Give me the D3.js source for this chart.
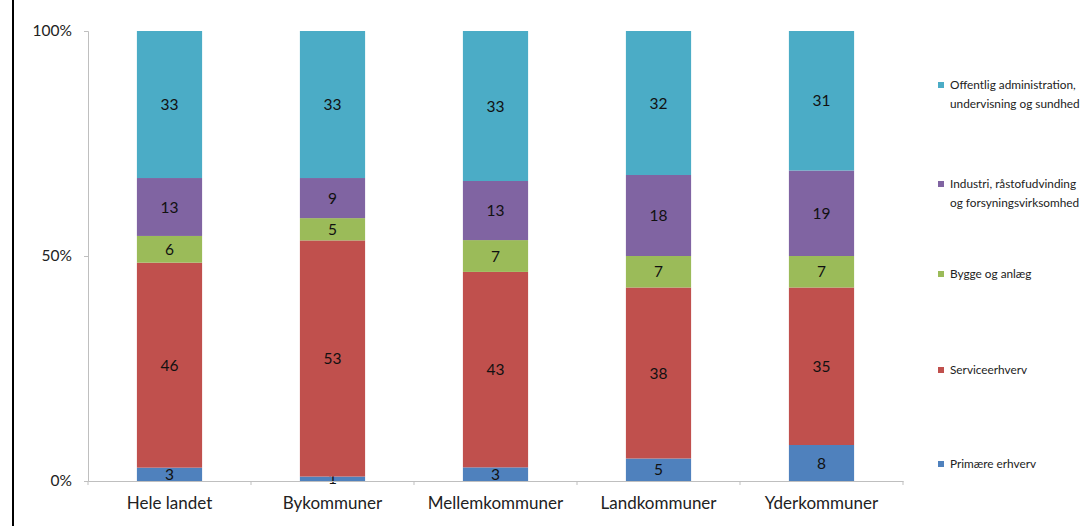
<!DOCTYPE html>
<html><head><meta charset="utf-8">
<script src="https://cdn.jsdelivr.net/npm/d3@7"></script>
<style>
html,body{margin:0;padding:0;background:#fff;}
svg{display:block;font-family:Lato, "Open Sans", sans-serif;}
</style></head>
<body>
<svg id="chart" width="1085" height="526"></svg>
<script>
const categories = ["Hele landet","Bykommuner","Mellemkommuner","Landkommuner","Yderkommuner"];
const seriesNames = ["Primære erhverv","Serviceerhverv","Bygge og anlæg","Industri, råstofudvinding og forsyningsvirksomhed","Offentlig administration, undervisning og sundhed"];
const legendLines = [["Primære erhverv"],["Serviceerhverv"],["Bygge og anlæg"],["Industri, råstofudvinding","og forsyningsvirksomhed"],["Offentlig administration,","undervisning og sundhed"]];
const primaere = [3,1,3,5,8];
const service = [46,53,43,38,35];
const bygge = [6,5,7,7,7];
const industri = [13,9,13,18,19];
const offentlig = [33,33,33,32,31];
const yTicks = [0,0.5,1];
const yTickLabels = ["0%","50%","100%"];
const colors = ["#4F81BD","#C0504D","#9BBB59","#8064A2","#4BACC6"];

const seriesValues = [primaere, service, bygge, industri, offentlig];
const svg = d3.select("#chart");

// frame line on the left
svg.append("rect").attr("x",12).attr("y",0).attr("width",2).attr("height",526).attr("fill","#000");

const x = d3.scaleBand().domain(categories).range([88,903]).padding(0);
const y = d3.scaleLinear().domain([0,1]).range([481,31]);
const barW = x.bandwidth()*0.4;

const rows = categories.map((c,i)=>{
  const o = {cat:c};
  seriesNames.forEach((s,j)=>o[s]=seriesValues[j][i]);
  return o;
});
const stack = d3.stack().keys(seriesNames).offset(d3.stackOffsetExpand);
const stacked = stack(rows);

const g = svg.append("g");
stacked.forEach((layer,j)=>{
  g.selectAll(null).data(layer).enter().append("rect")
    .attr("x",d=>x(d.data.cat)+x.bandwidth()/2-barW/2)
    .attr("width",barW)
    .attr("y",d=>y(d[1]))
    .attr("height",d=>y(d[0])-y(d[1]))
    .attr("fill",colors[j]);
  g.selectAll(null).data(layer).enter().append("text")
    .attr("x",d=>x(d.data.cat)+x.bandwidth()/2)
    .attr("y",d=>(y(d[0])+y(d[1]))/2)
    .attr("dy","0.36em")
    .attr("text-anchor","middle")
    .attr("font-size",15.5)
    .attr("fill","#111")
    .text(d=>d.data[layer.key]);
});

// Y axis
const yAxis = d3.axisLeft(y).tickValues(yTicks).tickFormat((d,i)=>yTickLabels[i]).tickSize(4).tickPadding(12);
const ya = svg.append("g").attr("transform","translate(88,0)").call(yAxis);
ya.select(".domain").attr("stroke","#bfbfbf");
ya.selectAll(".tick line").attr("stroke","#bfbfbf");
ya.selectAll(".tick text").attr("font-size",15.5).attr("fill","#222").attr("font-family","Lato, sans-serif");

// X axis
const xAxis = d3.axisBottom(x).tickSize(0).tickPadding(16);
const xa = svg.append("g").attr("transform","translate(0,481)").call(xAxis);
xa.select(".domain").attr("stroke","#bfbfbf");
xa.selectAll(".tick text").attr("font-size",17).attr("fill","#222").attr("font-family","Lato, sans-serif");
// category separators
const bounds = categories.map(c=>x(c)).concat([x.range()[1]]);
svg.selectAll(null).data(bounds).enter().append("line")
  .attr("x1",d=>d).attr("x2",d=>d).attr("y1",481).attr("y2",485)
  .attr("stroke","#bfbfbf");

// Legend
const legendY = [464, 370, 274, 184, 85];
const lg = svg.append("g");
seriesNames.forEach((s,j)=>{
  const item = lg.append("g").attr("transform",`translate(941,${legendY[j]})`);
  item.append("rect").attr("x",-3).attr("y",-3).attr("width",6).attr("height",6).attr("fill",colors[j]);
  legendLines[j].forEach((t,k)=>{
    item.append("text").attr("x",9).attr("y",k*19).attr("dy","0.35em")
      .attr("font-size",11.8).attr("fill","#222").text(t);
  });
});
</script>
</body></html>
